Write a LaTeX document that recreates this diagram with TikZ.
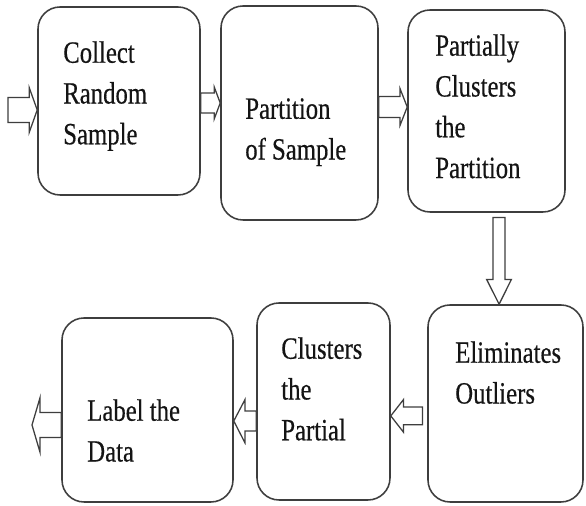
\documentclass[tikz,border=0pt]{standalone}
\usepackage{fontspec}
\setmainfont{Liberation Serif}[FakeStretch=0.8, FakeBold=0.4]
\usetikzlibrary{calc}

\definecolor{boxgray}{RGB}{62,62,62}
\definecolor{inkblack}{RGB}{20,20,20}

\tikzset{
  stage/.style={draw=boxgray, line width=1.1pt, rounded corners=0.55cm, fill=white},
  words/.style={anchor=north west, inner sep=0pt, align=left, text=inkblack,
    font=\fontsize{22}{29}\selectfont},
  shaftw/.store in=\shaftw, shaftw=0.25cm,
  headw/.store in=\headw, headw=0.45cm,
  headl/.store in=\headl, headl=0.2cm,
  hollow/.style={draw=boxgray, line width=0.9pt, fill=white,
    to path={let \p1=(\tikztostart), \p2=(\tikztotarget),
      \p3=($(\p2)!\headl!(\p1)$) in
      ($(\p1)!\shaftw!90:(\p2)$) -- ($(\p3)!\shaftw!90:(\p2)$)
      -- ($(\p3)!\headw!90:(\p2)$) -- (\p2)
      -- ($(\p3)!\headw!-90:(\p2)$) -- ($(\p3)!\shaftw!-90:(\p2)$)
      -- ($(\p1)!\shaftw!-90:(\p2)$) -- cycle}}
}

\begin{document}
\begin{tikzpicture}
  \fill[white] (0,0) rectangle (14.65,12.65);
  \useasboundingbox (0,0) rectangle (14.65,12.65);

  \node[stage, minimum width=4.05cm, minimum height=4.7cm] (collect) at (2.975,10.125) {};
  \node[stage, minimum width=3.925cm, minimum height=5.35cm] (partition) at (7.4875,9.825) {};
  \node[stage, minimum width=3.925cm, minimum height=5.05cm] (partial) at (12.1625,9.875) {};
  \node[stage, minimum width=3.875cm, minimum height=4.925cm] (outliers) at (12.6375,2.5625) {};
  \node[stage, minimum width=3.325cm, minimum height=4.925cm] (clusters) at (8.0875,2.6125) {};
  \node[stage, minimum width=4.275cm, minimum height=4.6cm] (label) at (3.6875,2.4) {};

  \node[words] (collect-t) at (1.575,11.625) {Collect\\Random\\Sample};
  \node[words] (partition-t) at (6.125,10.2) {Partition\\of Sample};
  \node[words] (partial-t) at (10.875,11.8) {Partially\\Clusters\\the\\Partition};
  \node[words] (outliers-t) at (11.375,4.125) {Eliminates\\Outliers};
  \node[words] (clusters-t) at (7.025,4.225) {Clusters\\the\\Partial};
  \node[words] (label-t) at (2.175,2.675) {Label the\\Data};

  \coordinate (src) at (0.2,9.9);
  \coordinate (sink) at (0.8,2.025);

  \draw[hollow, shaftw=0.31cm, headw=0.56cm, headl=0.2cm] (src) to ([yshift=-0.225cm]collect.west);
  \draw[hollow, shaftw=0.25cm, headw=0.4cm, headl=0.15cm] ([yshift=-0.05cm]collect.east) to ([yshift=0.25cm]partition.west);
  \draw[hollow, shaftw=0.26cm, headw=0.46cm, headl=0.18cm] ([yshift=0.15cm]partition.east) to ([yshift=0.1cm]partial.west);
  \draw[hollow, shaftw=0.15cm, headw=0.31cm, headl=0.62cm] ([shift={(0.31cm,-0.12cm)}]partial.south) to ([xshift=-0.16cm]outliers.north);
  \draw[hollow, shaftw=0.22cm, headw=0.41cm, headl=0.32cm] ([shift={(-0.12cm,-0.31cm)}]outliers.west) to ([yshift=-0.36cm]clusters.east);
  \draw[hollow, shaftw=0.25cm, headw=0.54cm, headl=0.28cm] ([yshift=-0.49cm]clusters.west) to ([yshift=-0.275cm]label.east);
  \draw[hollow, shaftw=0.31cm, headw=0.68cm, headl=0.2cm] ([yshift=-0.375cm]label.west) to (sink);
\end{tikzpicture}
\end{document}
